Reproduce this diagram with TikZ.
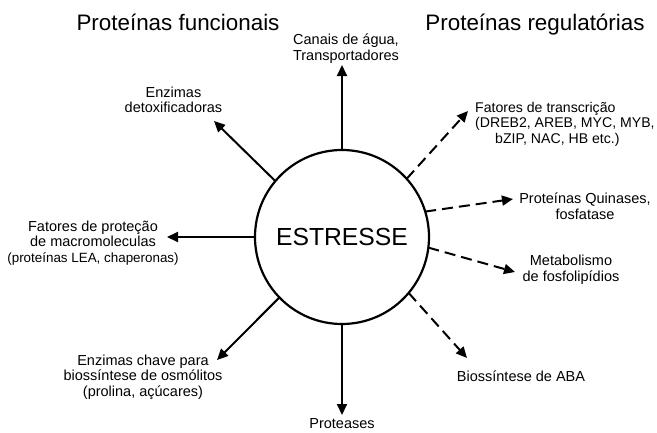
\documentclass[tikz,border=0pt]{standalone}
\usepackage{fontspec}
\setmainfont{Liberation Sans}
\usetikzlibrary{arrows.meta}
\begin{document}
\begin{tikzpicture}[x=1pt,y=-1pt,
  lbl/.style={align=center,font=\fontsize{14.5}{15.5}\selectfont,inner sep=0pt},
  ttl/.style={font=\fontsize{22.4}{26}\selectfont,inner sep=0pt,anchor=base},
  arr/.style={line width=2pt,-{Triangle[length=11pt,width=10pt]}},
  darr/.style={arr,dash pattern=on 11pt off 6pt}]
\useasboundingbox (0,0) rectangle (657,432);
\node[circle,draw,line width=2.2pt,minimum size=174pt,inner sep=0pt,outer sep=0pt,
  font=\fontsize{24.7}{28}\selectfont] (c) at (342,237) {ESTRESSE};
\node[ttl] (tf) at (178,30) {Proteínas funcionais};
\node[ttl] (tr) at (535,30) {Proteínas regulatórias};
\node[lbl] (canais) at (346,48.5) {Canais de água,\\Transportadores};
\node[lbl] (detox) at (173.5,100) {Enzimas\\detoxificadoras};
\node[lbl,align=left,anchor=west,font=\fontsize{14.1}{15.5}\selectfont] (fat) at (475,124) {Fatores de transcrição\\(DREB2, AREB, MYC, MYB,\\\hspace*{20pt}bZIP, NAC, HB etc.)};
\node[lbl] (pk) at (585,206) {Proteínas Quinases,\\fosfatase};
\node[lbl] (met) at (571,269.5) {Metabolismo\\de fosfolipídios};
\node[lbl] (aba) at (521,376) {Biossíntese de ABA};
\node[lbl] (prot) at (342,424) {Proteases};
\node[lbl] (osm) at (143,377) {Enzimas chave para\\biossíntese de osmólitos\\(prolina, açúcares)};
\node[lbl] (mac) at (93,243) {Fatores de proteção\\de macromoleculas\\{\fontsize{13.4}{15}\selectfont (proteínas LEA, chaperonas)}};
\coordinate (pup) at (342,65);
\coordinate (pdetox) at (214,121);
\coordinate (pleft) at (167,237);
\coordinate (posm) at (217,360);
\coordinate (pdown) at (342,415);
\coordinate (pfat) at (468,111);
\coordinate (ppk) at (513,199);
\coordinate (pmet) at (515,272);
\coordinate (paba) at (467,358);
\draw[arr] (c.90) -- (pup);
\draw[arr] (c.140.6) -- (pdetox);
\draw[arr] (c.180) -- (pleft);
\draw[arr] (c.224.5) -- (posm);
\draw[arr] (c.270) -- (pdown);
\draw[darr] (c.42.7) -- (pfat);
\draw[darr] (c.17.8) -- (ppk);
\draw[darr] (c.-7.1) -- (pmet);
\draw[darr] (c.-40.6) -- (paba);
\end{tikzpicture}
\end{document}
